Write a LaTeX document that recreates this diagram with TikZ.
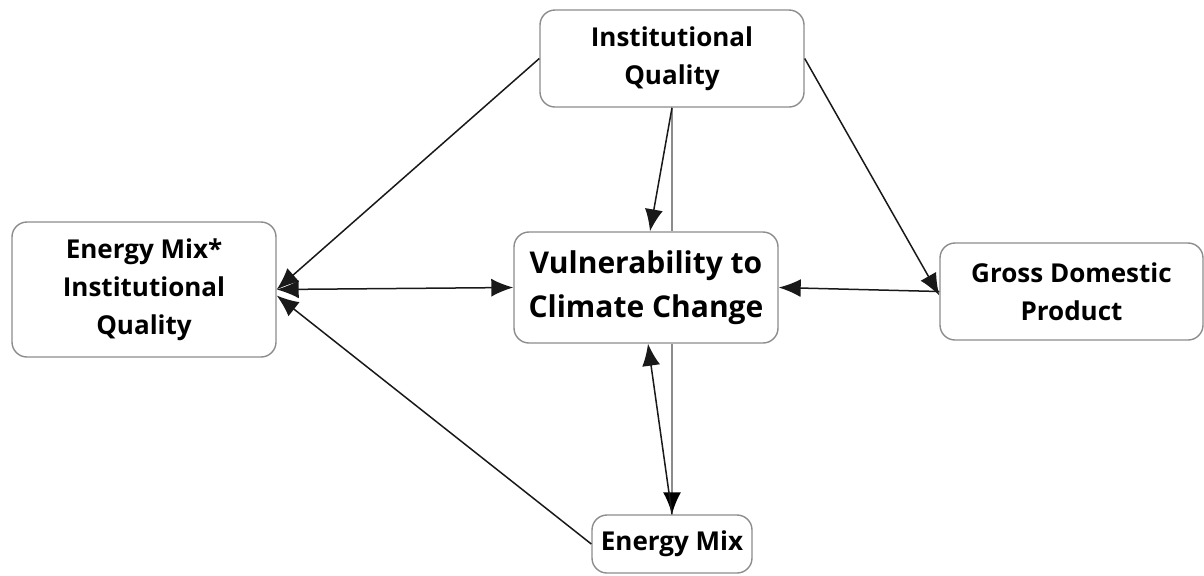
\documentclass[tikz,border=0pt]{standalone}
\usepackage{fontspec}
\setmainfont{Open Sans}
\usetikzlibrary{arrows.meta}
\tikzset{
  factor/.style={draw=black!45, line width=0.7pt, rounded corners=7.5pt, align=center,
    font=\bfseries\fontsize{13}{19}\selectfont, inner sep=2pt},
  link/.style={draw=black!90, line width=0.75pt, -{Latex[length=11pt,width=9pt]}}
}
\begin{document}
\begin{tikzpicture}[x=0.5pt,y=-0.5pt]
      \useasboundingbox (0,0) rectangle (1204,575);
      \draw
        (672,58.5) node[factor, minimum width=132pt, minimum height=48.5pt] (iq){Institutional\\Quality}
        (144,289.5) node[factor, minimum width=132pt, minimum height=67.5pt] (emiq){Energy Mix*\\Institutional\\Quality}
        (646,287.5) node[factor, minimum width=132pt, minimum height=55.5pt,
          font=\bfseries\fontsize{15}{22}\selectfont] (vcc){Vulnerability to\\Climate Change}
        (1071.5,291.5) node[factor, minimum width=131.5pt, minimum height=48.5pt] (gdp){Gross Domestic\\Product}
        (672,544) node[factor, minimum width=80pt, minimum height=29pt] (em){Energy Mix};
      \begin{scope}[link]
        \draw[draw=black!45, line width=0.9pt, -{Latex[length=11pt,width=9pt,color=black]}] (iq.south) to (em.north);
        \fill[white] (vcc.north west) rectangle (vcc.south east);
        \path (646,287.5) node[factor, minimum width=132pt, minimum height=55.5pt,
          font=\bfseries\fontsize{15}{22}\selectfont] {Vulnerability to\\Climate Change};
        \draw (iq.west) to (emiq.east);
        \draw (iq.south) to ([xshift=2pt]vcc.north);
        \draw (iq.east) to ([yshift=-2pt]gdp.west);
        \draw[{Latex[length=11pt,width=9pt]}-{Latex[length=11pt,width=9pt]}] (emiq.east) to (vcc.west);
        \draw (gdp.west) to (vcc.east);
        \draw (em.north) to ([xshift=1pt]vcc.south);
        \draw (em.west) to ([yshift=-3pt]emiq.east);
      \end{scope}
    \end{tikzpicture}
\end{document}
